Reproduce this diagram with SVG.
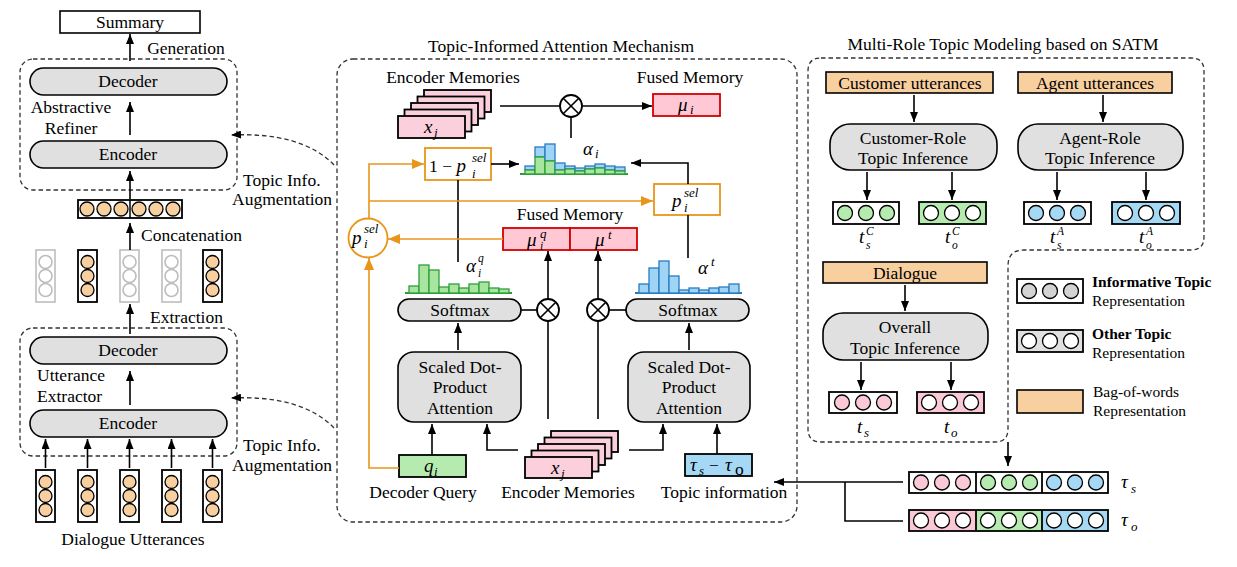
<svg xmlns="http://www.w3.org/2000/svg" width="1237" height="567" viewBox="0 0 1237 567">
<defs>
<marker id="a" markerWidth="10" markerHeight="8" refX="10" refY="4" orient="auto" markerUnits="userSpaceOnUse"><path d="M0,0 L10,4 L0,8 z" fill="#000"/></marker>
<marker id="ao" markerWidth="12" markerHeight="10" refX="12" refY="5" orient="auto" markerUnits="userSpaceOnUse"><path d="M0,0 L12,5 L0,10 z" fill="#E8961A"/></marker>
<style>
text{font-family:"Liberation Serif","Times New Roman",serif;font-size:17.5px;fill:#000}
.c{text-anchor:middle}
.m{font-style:italic;font-size:19px}
.s{font-style:italic;font-size:13px}
.ss{font-style:italic;font-size:11.5px}
.lg{font-size:15.5px}
.b{font-weight:bold}
.pill{fill:#E0E0E0;stroke:#000;stroke-width:1.6}
.dash{fill:none;stroke:#333;stroke-width:1.3;stroke-dasharray:4.5 3}
.ln{stroke:#000;stroke-width:1.6;fill:none}
.ar{stroke:#000;stroke-width:1.6;fill:none;marker-end:url(#a)}
.or{stroke:#E8961A;stroke-width:1.6;fill:none}
.ora{stroke:#E8961A;stroke-width:1.6;fill:none;marker-end:url(#ao)}
.vec{fill:#fff;stroke:#000;stroke-width:1.8}
.oc{fill:#F8CF9F;stroke:#000;stroke-width:1.3}
.wc{fill:#fff;stroke:#000;stroke-width:1.3}
.gc{fill:#B6EBB0;stroke:#000;stroke-width:1.3}
.bc{fill:#A4D8F5;stroke:#000;stroke-width:1.3}
.pc{fill:#FBC9D6;stroke:#000;stroke-width:1.3}
.mem{fill:#FBCFDC;stroke:#000;stroke-width:1.8}
.fm{fill:#FFC8D4;stroke:#D00000;stroke-width:1.8}
.bow{fill:#F8CF9F;stroke:#000;stroke-width:1.6}
.gb{fill:#A8E6A0;stroke:#2E9E3A;stroke-width:1.3}
.bb{fill:#9ED4F5;stroke:#2A7BC0;stroke-width:1.3}
.ob{fill:#fff;stroke:#E8961A;stroke-width:1.8}
.ot{fill:#fff;stroke:#000;stroke-width:1.8}
</style>
</defs>

<!-- Left column -->
<g id="summary"><rect x="60" y="11" width="140" height="22" fill="#fff" stroke="#000" stroke-width="1.6"/><text x="130" y="28" class="c">Summary</text></g>
<text x="186" y="54" class="c">Generation</text>
<g id="refiner">
<rect x="20" y="59" width="217" height="131" rx="13" class="dash"/>
<rect x="30" y="68" width="197" height="27" rx="13.5" class="pill"/><text x="128" y="87" class="c">Decoder</text>
<text x="71" y="113" class="c">Abstractive</text><text x="71" y="134" class="c">Refiner</text>
<rect x="30" y="141" width="197" height="27" rx="13.5" class="pill"/><text x="128" y="160" class="c">Encoder</text>
</g>
<text x="243" y="186">Topic Info.</text><text x="232" y="205">Augmentation</text>
<g id="concat">
<rect x="78" y="200" width="104" height="18" class="vec"/><line x1="130" y1="200" x2="130" y2="218" stroke="#000" stroke-width="1.5"/>
<circle cx="87" cy="209" r="7" class="oc"/><circle cx="104" cy="209" r="7" class="oc"/><circle cx="121" cy="209" r="7" class="oc"/>
<circle cx="139" cy="209" r="7" class="oc"/><circle cx="156" cy="209" r="7" class="oc"/><circle cx="173" cy="209" r="7" class="oc"/>
</g>
<text x="141" y="241">Concatenation</text>
<g id="extracted">
<g stroke="#BDBDBD" stroke-width="1.6" fill="#fff">
<rect x="36" y="250" width="19" height="52"/><circle cx="45.5" cy="262" r="6.5"/><circle cx="45.5" cy="276" r="6.5"/><circle cx="45.5" cy="290" r="6.5"/>
<rect x="120" y="250" width="19" height="52"/><circle cx="129.5" cy="262" r="6.5"/><circle cx="129.5" cy="276" r="6.5"/><circle cx="129.5" cy="290" r="6.5"/>
<rect x="162" y="250" width="19" height="52"/><circle cx="171.5" cy="262" r="6.5"/><circle cx="171.5" cy="276" r="6.5"/><circle cx="171.5" cy="290" r="6.5"/>
</g>
<rect x="78" y="250" width="19" height="52" class="vec"/><circle cx="87.5" cy="262" r="6.5" class="oc"/><circle cx="87.5" cy="276" r="6.5" class="oc"/><circle cx="87.5" cy="290" r="6.5" class="oc"/>
<rect x="203" y="250" width="19" height="52" class="vec"/><circle cx="212.5" cy="262" r="6.5" class="oc"/><circle cx="212.5" cy="276" r="6.5" class="oc"/><circle cx="212.5" cy="290" r="6.5" class="oc"/>
</g>
<text x="150" y="323">Extraction</text>
<g id="extractor">
<rect x="20" y="328" width="217" height="128" rx="13" class="dash"/>
<rect x="30" y="337" width="197" height="27" rx="13.5" class="pill"/><text x="128" y="356" class="c">Decoder</text>
<text x="37" y="381">Utterance</text><text x="37" y="402">Extractor</text>
<rect x="30" y="410" width="197" height="27" rx="13.5" class="pill"/><text x="128" y="429" class="c">Encoder</text>
</g>
<text x="243" y="451">Topic Info.</text><text x="232" y="471">Augmentation</text>
<g id="utterances">
<rect x="36" y="470" width="19" height="52" class="vec"/><circle cx="45.5" cy="482" r="6.5" class="oc"/><circle cx="45.5" cy="496" r="6.5" class="oc"/><circle cx="45.5" cy="510" r="6.5" class="oc"/>
<rect x="78" y="470" width="19" height="52" class="vec"/><circle cx="87.5" cy="482" r="6.5" class="oc"/><circle cx="87.5" cy="496" r="6.5" class="oc"/><circle cx="87.5" cy="510" r="6.5" class="oc"/>
<rect x="120" y="470" width="19" height="52" class="vec"/><circle cx="129.5" cy="482" r="6.5" class="oc"/><circle cx="129.5" cy="496" r="6.5" class="oc"/><circle cx="129.5" cy="510" r="6.5" class="oc"/>
<rect x="162" y="470" width="19" height="52" class="vec"/><circle cx="171.5" cy="482" r="6.5" class="oc"/><circle cx="171.5" cy="496" r="6.5" class="oc"/><circle cx="171.5" cy="510" r="6.5" class="oc"/>
<rect x="203" y="470" width="19" height="52" class="vec"/><circle cx="212.5" cy="482" r="6.5" class="oc"/><circle cx="212.5" cy="496" r="6.5" class="oc"/><circle cx="212.5" cy="510" r="6.5" class="oc"/>
<text x="133" y="545" class="c">Dialogue Utterances</text>
</g>

<!-- Middle -->
<text x="561" y="52" class="c">Topic-Informed Attention Mechanism</text>
<rect id="tiam" x="337" y="59" width="460" height="463" rx="16" class="dash"/>
<text x="453" y="83" class="c">Encoder Memories</text>
<g id="memtop">
<rect x="424" y="90" width="67" height="22" class="mem"/>
<rect x="417.5" y="96.5" width="67" height="22" class="mem"/>
<rect x="411" y="103" width="67" height="22" class="mem"/>
<rect x="404.5" y="109.5" width="67" height="22" class="mem"/>
<rect x="398" y="116" width="67" height="22" class="mem"/>
<text x="424" y="133" class="m">x</text><text x="434" y="137" class="s">j</text>
</g>
<text x="690" y="83" class="c">Fused Memory</text>
<g id="fusedtop"><rect x="653" y="94" width="67" height="22" class="fm"/><text x="678" y="111" class="m">μ</text><text x="690" y="114" class="s">i</text></g>
<g id="otimes-top"><circle cx="571" cy="106" r="11" class="ot"/><path d="M563.2,98.2 L578.8,113.8 M578.8,98.2 L563.2,113.8" class="ln"/></g>
<g id="hist-i">
<line x1="520" y1="174" x2="628" y2="174" stroke="#2E9E3A" stroke-width="2"/>
<rect x="525" y="166" width="10" height="4" class="bb"/><rect x="525" y="170" width="10" height="4" class="gb"/>
<rect x="535" y="147" width="10" height="10" class="bb"/><rect x="535" y="157" width="10" height="17" class="gb"/>
<rect x="545" y="144" width="10" height="17" class="bb"/><rect x="545" y="161" width="10" height="13" class="gb"/>
<rect x="555" y="163" width="10" height="7" class="bb"/><rect x="555" y="170" width="10" height="4" class="gb"/>
<rect x="565" y="166" width="10" height="3" class="bb"/><rect x="565" y="169" width="10" height="5" class="gb"/>
<rect x="575" y="168" width="10" height="3" class="bb"/><rect x="575" y="171" width="10" height="3" class="gb"/>
<rect x="585" y="166" width="10" height="3" class="bb"/><rect x="585" y="169" width="10" height="5" class="gb"/>
<rect x="595" y="164" width="10" height="4" class="bb"/><rect x="595" y="168" width="10" height="6" class="gb"/>
<rect x="605" y="166" width="10" height="4" class="bb"/><rect x="605" y="170" width="10" height="4" class="gb"/>
<rect x="615" y="167" width="10" height="4" class="bb"/><rect x="615" y="171" width="10" height="3" class="gb"/>
<text x="583" y="155" class="m">α</text><text x="595" y="158" class="s">i</text>
</g>
<g id="one-minus-p"><rect x="425" y="148" width="66" height="32" class="ob"/><text x="429" y="172">1 − <tspan font-style="italic" font-size="19">p</tspan></text><text x="472" y="162" class="s">sel</text><text x="472" y="178" class="s">i</text></g>
<g id="p-sel"><rect x="654" y="184" width="66" height="31" class="ob"/><text x="672" y="207" class="m">p</text><text x="684" y="197" class="s">sel</text><text x="684" y="212" class="s">i</text></g>
<g id="p-circle"><circle cx="368" cy="238" r="19.5" class="ob"/><text x="352" y="244" class="m">p</text><text x="364" y="233" class="s">sel</text><text x="364" y="248" class="s">i</text></g>
<text x="570" y="220" class="c">Fused Memory</text>
<g id="fused-mid">
<rect x="503" y="228" width="67" height="22" class="fm"/><rect x="570" y="228" width="67" height="22" class="fm"/>
<text x="527" y="246" class="m">μ</text><text x="540" y="238" class="s">q</text><text x="540" y="250" class="ss">i</text>
<text x="595" y="246" class="m">μ</text><text x="608" y="239" class="s">t</text>
</g>
<g id="hist-q">
<line x1="405" y1="293" x2="512" y2="293" stroke="#2E9E3A" stroke-width="2"/>
<rect x="409" y="286" width="10" height="7" class="gb"/><rect x="419" y="265" width="10" height="28" class="gb"/>
<rect x="429" y="270" width="10" height="23" class="gb"/><rect x="439" y="287" width="10" height="6" class="gb"/>
<rect x="449" y="284" width="10" height="9" class="gb"/><rect x="459" y="288" width="10" height="5" class="gb"/>
<rect x="469" y="284" width="10" height="9" class="gb"/><rect x="479" y="282" width="10" height="11" class="gb"/>
<rect x="489" y="288" width="10" height="5" class="gb"/><rect x="499" y="289" width="10" height="4" class="gb"/>
<text x="466" y="272" class="m">α</text><text x="478" y="262" class="ss">q</text><text x="478" y="277" class="ss">i</text>
</g>
<g id="hist-t">
<line x1="635" y1="293" x2="742" y2="293" stroke="#2A7BC0" stroke-width="2"/>
<rect x="639" y="284" width="10" height="9" class="bb"/><rect x="649" y="268" width="10" height="25" class="bb"/>
<rect x="659" y="261" width="10" height="32" class="bb"/><rect x="669" y="276" width="10" height="17" class="bb"/>
<rect x="679" y="290" width="10" height="3" class="bb"/><rect x="689" y="288" width="10" height="5" class="bb"/>
<rect x="699" y="290" width="10" height="3" class="bb"/><rect x="709" y="288" width="10" height="5" class="bb"/>
<rect x="719" y="287" width="10" height="6" class="bb"/><rect x="729" y="284" width="10" height="9" class="bb"/>
<text x="698" y="274" class="m">α</text><text x="711" y="266" class="s">t</text>
</g>
<g id="softmax-q"><rect x="398" y="299" width="123" height="22" rx="11" class="pill"/><text x="460" y="316" class="c">Softmax</text></g>
<g id="softmax-t"><rect x="626" y="299" width="123" height="22" rx="11" class="pill"/><text x="688" y="316" class="c">Softmax</text></g>
<g id="otimes-q"><circle cx="548" cy="310" r="11" class="ot"/><path d="M540.2,302.2 L555.8,317.8 M555.8,302.2 L540.2,317.8" class="ln"/></g>
<g id="otimes-t"><circle cx="598" cy="310" r="11" class="ot"/><path d="M590.2,302.2 L605.8,317.8 M605.8,302.2 L590.2,317.8" class="ln"/></g>
<g id="sdpa-q"><rect x="398" y="352" width="123" height="70" rx="16" class="pill"/><text x="460" y="373" class="c">Scaled Dot-</text><text x="460" y="393" class="c">Product</text><text x="460" y="414" class="c">Attention</text></g>
<g id="sdpa-t"><rect x="628" y="352" width="122" height="70" rx="16" class="pill"/><text x="689" y="373" class="c">Scaled Dot-</text><text x="689" y="393" class="c">Product</text><text x="689" y="414" class="c">Attention</text></g>
<g id="query"><rect x="399" y="455" width="67" height="22" fill="#B6EBB0" stroke="#000" stroke-width="1.8"/><text x="424" y="472" class="m">q</text><text x="434" y="476" class="s">i</text><text x="423" y="498" class="c">Decoder Query</text></g>
<g id="membot">
<rect x="551" y="431" width="67" height="21" class="mem"/>
<rect x="544.5" y="437.5" width="67" height="21" class="mem"/>
<rect x="538" y="444" width="67" height="21" class="mem"/>
<rect x="531.5" y="450.5" width="67" height="21" class="mem"/>
<rect x="525" y="457" width="67" height="21" class="mem"/>
<text x="551" y="474" class="m">x</text><text x="561" y="478" class="s">j</text>
<text x="568" y="498" class="c">Encoder Memories</text>
</g>
<g id="topicinfo"><rect x="685" y="454" width="67" height="22" fill="#A4D8F5" stroke="#000" stroke-width="1.8"/>
<text x="690" y="471" class="m">τ</text><text x="699" y="475" class="s">s</text><text x="709" y="471">−</text><text x="725" y="471" class="m">τ</text><text x="735" y="475" font-size="13">o</text>
<text x="724" y="498" class="c">Topic information</text></g>

<!-- Right section -->
<text x="1003" y="50" class="c">Multi-Role Topic Modeling based on SATM</text>
<path id="satm" d="M821,58 H1191 Q1204,58 1204,71 V237 Q1204,250 1191,250 H1024 Q1008,250 1008,266 V429 Q1008,442 995,442 H821 Q808,442 808,429 V71 Q808,58 821,58 Z" class="dash"/>
<g id="cust-utt"><rect x="826" y="72" width="167" height="21" class="bow"/><text x="910" y="89" class="c">Customer utterances</text></g>
<g id="agent-utt"><rect x="1018" y="72" width="154" height="21" class="bow"/><text x="1095" y="89" class="c">Agent utterances</text></g>
<g id="cust-inf"><rect x="830" y="124" width="167" height="46" rx="20" class="pill"/><text x="913" y="144" class="c">Customer-Role</text><text x="913" y="164" class="c">Topic Inference</text></g>
<g id="agent-inf"><rect x="1018" y="124" width="165" height="46" rx="20" class="pill"/><text x="1100" y="144" class="c">Agent-Role</text><text x="1100" y="164" class="c">Topic Inference</text></g>
<g id="tsC"><rect x="833" y="202" width="66" height="22" class="vec"/><circle cx="845" cy="213" r="7.5" class="gc"/><circle cx="866" cy="213" r="7.5" class="gc"/><circle cx="887" cy="213" r="7.5" class="gc"/>
<text x="859" y="243" class="m">t</text><text x="866" y="249" class="ss">s</text><text x="866" y="235" class="ss">C</text></g>
<g id="toC"><rect x="919" y="202" width="67" height="22" fill="#B6EBB0" stroke="#000" stroke-width="1.8"/><circle cx="931" cy="213" r="7.5" class="wc"/><circle cx="952" cy="213" r="7.5" class="wc"/><circle cx="973" cy="213" r="7.5" class="wc"/>
<text x="945" y="243" class="m">t</text><text x="952" y="249" class="ss">o</text><text x="952" y="235" class="ss">C</text></g>
<g id="tsA"><rect x="1024" y="202" width="67" height="22" class="vec"/><circle cx="1036" cy="213" r="7.5" class="bc"/><circle cx="1057" cy="213" r="7.5" class="bc"/><circle cx="1078" cy="213" r="7.5" class="bc"/>
<text x="1050" y="243" class="m">t</text><text x="1057" y="249" class="ss">s</text><text x="1057" y="235" class="ss">A</text></g>
<g id="toA"><rect x="1112" y="202" width="68" height="22" fill="#A4D8F5" stroke="#000" stroke-width="1.8"/><circle cx="1125" cy="213" r="7.5" class="wc"/><circle cx="1146" cy="213" r="7.5" class="wc"/><circle cx="1167" cy="213" r="7.5" class="wc"/>
<text x="1139" y="243" class="m">t</text><text x="1146" y="249" class="ss">o</text><text x="1146" y="235" class="ss">A</text></g>
<g id="dialogue"><rect x="823" y="262" width="164" height="21" class="bow"/><text x="905" y="279" class="c">Dialogue</text></g>
<g id="overall"><rect x="823" y="313" width="165" height="47" rx="20" class="pill"/><text x="905" y="333" class="c">Overall</text><text x="905" y="354" class="c">Topic Inference</text></g>
<g id="ts"><rect x="829" y="392" width="68" height="21" class="vec"/><circle cx="842" cy="402.5" r="7.5" class="pc"/><circle cx="863" cy="402.5" r="7.5" class="pc"/><circle cx="884" cy="402.5" r="7.5" class="pc"/>
<text x="857" y="433" class="m">t</text><text x="864" y="437" class="s">s</text></g>
<g id="to"><rect x="917" y="392" width="67" height="21" fill="#FBC9D6" stroke="#000" stroke-width="1.8"/><circle cx="929" cy="402.5" r="7.5" class="wc"/><circle cx="950" cy="402.5" r="7.5" class="wc"/><circle cx="971" cy="402.5" r="7.5" class="wc"/>
<text x="944" y="433" class="m">t</text><text x="951" y="437" class="s">o</text></g>
<g id="legend">
<rect x="1017" y="279" width="66" height="24" class="vec"/><circle cx="1029" cy="291" r="7.5" fill="#D3D3D3" stroke="#000" stroke-width="1.3"/><circle cx="1050" cy="291" r="7.5" fill="#D3D3D3" stroke="#000" stroke-width="1.3"/><circle cx="1071" cy="291" r="7.5" fill="#D3D3D3" stroke="#000" stroke-width="1.3"/>
<text x="1092" y="287" class="lg b">Informative Topic</text><text x="1092" y="306" class="lg">Representation</text>
<rect x="1017" y="330" width="66" height="22" fill="#E0E0E0" stroke="#000" stroke-width="1.8"/><circle cx="1029" cy="341" r="7.5" class="wc"/><circle cx="1050" cy="341" r="7.5" class="wc"/><circle cx="1071" cy="341" r="7.5" class="wc"/>
<text x="1092" y="339" class="lg b">Other Topic</text><text x="1092" y="358" class="lg">Representation</text>
<rect x="1017" y="390" width="66" height="23" class="bow"/>
<text x="1093" y="397" class="lg">Bag-of-words</text><text x="1093" y="416" class="lg">Representation</text>
</g>
<g id="tau-s"><rect x="909" y="472" width="199" height="21" class="vec"/><line x1="976" y1="472" x2="976" y2="493" stroke="#000" stroke-width="1.8"/><line x1="1042" y1="472" x2="1042" y2="493" stroke="#000" stroke-width="1.8"/>
<circle cx="921" cy="482.5" r="7.5" class="pc"/><circle cx="942" cy="482.5" r="7.5" class="pc"/><circle cx="963" cy="482.5" r="7.5" class="pc"/>
<circle cx="988" cy="482.5" r="7.5" class="gc"/><circle cx="1009" cy="482.5" r="7.5" class="gc"/><circle cx="1030" cy="482.5" r="7.5" class="gc"/>
<circle cx="1054" cy="482.5" r="7.5" class="bc"/><circle cx="1075" cy="482.5" r="7.5" class="bc"/><circle cx="1096" cy="482.5" r="7.5" class="bc"/>
<text x="1121" y="488" class="m">τ</text><text x="1131" y="493" class="s">s</text></g>
<g id="tau-o">
<rect x="909" y="510" width="67" height="21" fill="#FBC9D6"/><rect x="976" y="510" width="66" height="21" fill="#B6EBB0"/><rect x="1042" y="510" width="66" height="21" fill="#A4D8F5"/>
<rect x="909" y="510" width="199" height="21" fill="none" stroke="#000" stroke-width="1.8"/><line x1="976" y1="510" x2="976" y2="531" stroke="#000" stroke-width="1.8"/><line x1="1042" y1="510" x2="1042" y2="531" stroke="#000" stroke-width="1.8"/>
<circle cx="921" cy="520.5" r="7.5" class="wc"/><circle cx="942" cy="520.5" r="7.5" class="wc"/><circle cx="963" cy="520.5" r="7.5" class="wc"/>
<circle cx="988" cy="520.5" r="7.5" class="wc"/><circle cx="1009" cy="520.5" r="7.5" class="wc"/><circle cx="1030" cy="520.5" r="7.5" class="wc"/>
<circle cx="1054" cy="520.5" r="7.5" class="wc"/><circle cx="1075" cy="520.5" r="7.5" class="wc"/><circle cx="1096" cy="520.5" r="7.5" class="wc"/>
<text x="1121" y="526" class="m">τ</text><text x="1131" y="531" class="s">o</text></g>

<!-- Connectors -->
<g id="connectors">
<line x1="130" y1="61" x2="130" y2="34" class="ar"/>
<line x1="130" y1="135" x2="130" y2="102" class="ar"/>
<line x1="130" y1="199" x2="130" y2="171" class="ar"/>
<line x1="130" y1="250" x2="130" y2="223" class="ar"/>
<line x1="130" y1="334" x2="130" y2="304" class="ar"/>
<line x1="130" y1="405" x2="130" y2="371" class="ar"/>
<line x1="45.5" y1="468" x2="45.5" y2="439" class="ar"/>
<line x1="87.5" y1="468" x2="87.5" y2="439" class="ar"/>
<line x1="129.5" y1="468" x2="129.5" y2="439" class="ar"/>
<line x1="171.5" y1="468" x2="171.5" y2="439" class="ar"/>
<line x1="212.5" y1="468" x2="212.5" y2="439" class="ar"/>
<path d="M334,165 C312,142 276,133 231,135" fill="none" stroke="#333" stroke-width="1.3" stroke-dasharray="4.5 3" marker-end="url(#a)"/>
<path d="M334,428 C312,405 276,396 231,398" fill="none" stroke="#333" stroke-width="1.3" stroke-dasharray="4.5 3" marker-end="url(#a)"/>

<line x1="500" y1="106" x2="560" y2="106" class="ln"/>
<line x1="582" y1="106" x2="652" y2="106" class="ar"/>
<line x1="571" y1="117" x2="571" y2="138" class="ln"/>
<line x1="491" y1="164" x2="519" y2="164" class="ar"/>
<path d="M688,184 V163 H631" class="ar"/>
<line x1="458" y1="180" x2="458" y2="262" class="ln"/>
<line x1="688" y1="215" x2="688" y2="258" class="ln"/>
<polyline points="399,468 369,468 369,258" class="ora"/>
<polyline points="369,218 369,164 424,164" class="ora"/>
<line x1="369" y1="201" x2="653" y2="201" class="ora"/>
<line x1="503" y1="239" x2="388" y2="239" class="ora"/>
<line x1="521" y1="310" x2="537" y2="310" class="ln"/>
<line x1="548" y1="299" x2="548" y2="251" class="ar"/>
<line x1="548" y1="321" x2="548" y2="419" class="ln"/>
<line x1="609" y1="310" x2="626" y2="310" class="ln"/>
<line x1="598" y1="299" x2="598" y2="251" class="ar"/>
<line x1="598" y1="321" x2="598" y2="419" class="ln"/>
<line x1="458" y1="350" x2="458" y2="323" class="ar"/>
<line x1="689" y1="350" x2="689" y2="323" class="ar"/>
<line x1="432" y1="455" x2="432" y2="424" class="ar"/>
<polyline points="518,450 487,450 487,424" class="ar"/>
<polyline points="629,450 663,450 663,424" class="ar"/>
<line x1="717" y1="454" x2="717" y2="424" class="ar"/>
<line x1="903" y1="482" x2="774" y2="482" class="ar"/>
<polyline points="845,482 845,521 903,521" class="ln"/>
<line x1="1008" y1="442" x2="1008" y2="466" class="ar"/>

<line x1="914" y1="95" x2="914" y2="122" class="ar"/>
<line x1="1103" y1="95" x2="1103" y2="122" class="ar"/>
<line x1="867" y1="172" x2="867" y2="200" class="ar"/>
<line x1="952" y1="172" x2="952" y2="200" class="ar"/>
<line x1="1057" y1="172" x2="1057" y2="200" class="ar"/>
<line x1="1146" y1="172" x2="1146" y2="200" class="ar"/>
<line x1="905" y1="285" x2="905" y2="311" class="ar"/>
<line x1="861" y1="362" x2="861" y2="390" class="ar"/>
<line x1="951" y1="362" x2="951" y2="390" class="ar"/>
</g>
</svg>
